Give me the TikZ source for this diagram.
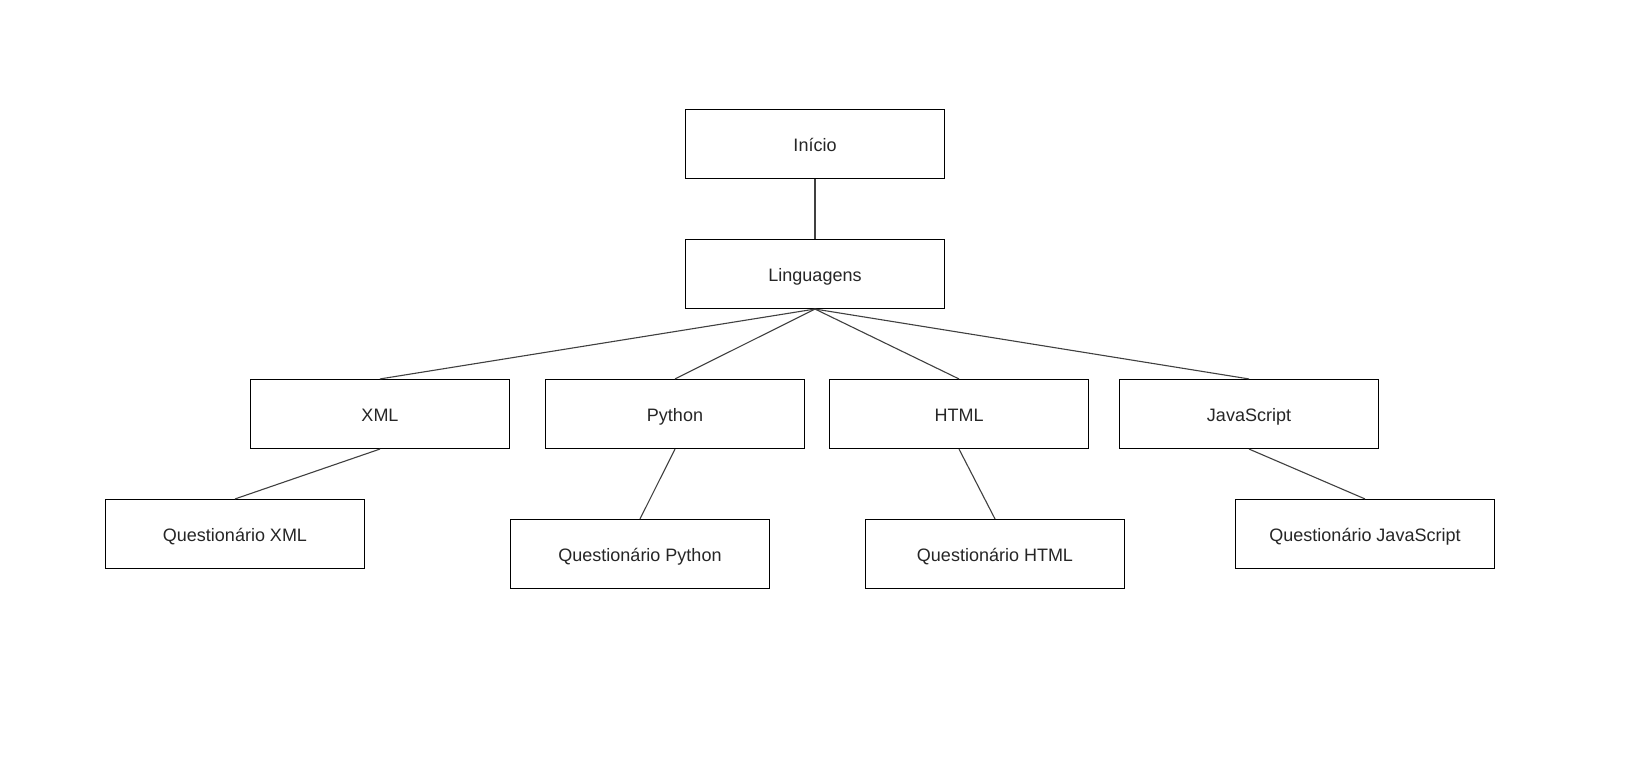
\documentclass[tikz,border=0pt]{standalone}
\usepackage{fontspec}
\setmainfont{Liberation Sans}
\begin{document}
\begin{tikzpicture}[x=0.5pt,y=-0.5pt,
  box/.style={draw=black, line width=0.55pt, minimum width=129.5pt, minimum height=34.5pt, inner sep=0pt, text height=7.5pt, text depth=0pt, font=\fontsize{9pt}{11pt}\selectfont, text=black!85},
  link/.style={draw=black!75, line width=0.55pt}]
\useasboundingbox (0,0) rectangle (1628,769);
\fill[white] (0,0) rectangle (1628,769);
\node[box] (inicio) at (815,144) {Início};
\node[box] (ling) at (815,274) {Linguagens};
\node[box] (xml) at (380,414) {XML};
\node[box] (py) at (675,414) {Python};
\node[box] (html) at (959,414) {HTML};
\node[box] (js) at (1249,414) {JavaScript};
\node[box] (qxml) at (235,534) {Questionário XML};
\node[box] (qpy) at (640,554) {Questionário Python};
\node[box] (qhtml) at (995,554) {Questionário HTML};
\node[box] (qjs) at (1365,534) {Questionário JavaScript};
\draw[link] (inicio.south) -- (ling.north);
\draw[link] (ling.south) -- (xml.north);
\draw[link] (ling.south) -- (py.north);
\draw[link] (ling.south) -- (html.north);
\draw[link] (ling.south) -- (js.north);
\draw[link] (xml.south) -- (qxml.north);
\draw[link] (py.south) -- (qpy.north);
\draw[link] (html.south) -- (qhtml.north);
\draw[link] (js.south) -- (qjs.north);
\end{tikzpicture}
\end{document}
